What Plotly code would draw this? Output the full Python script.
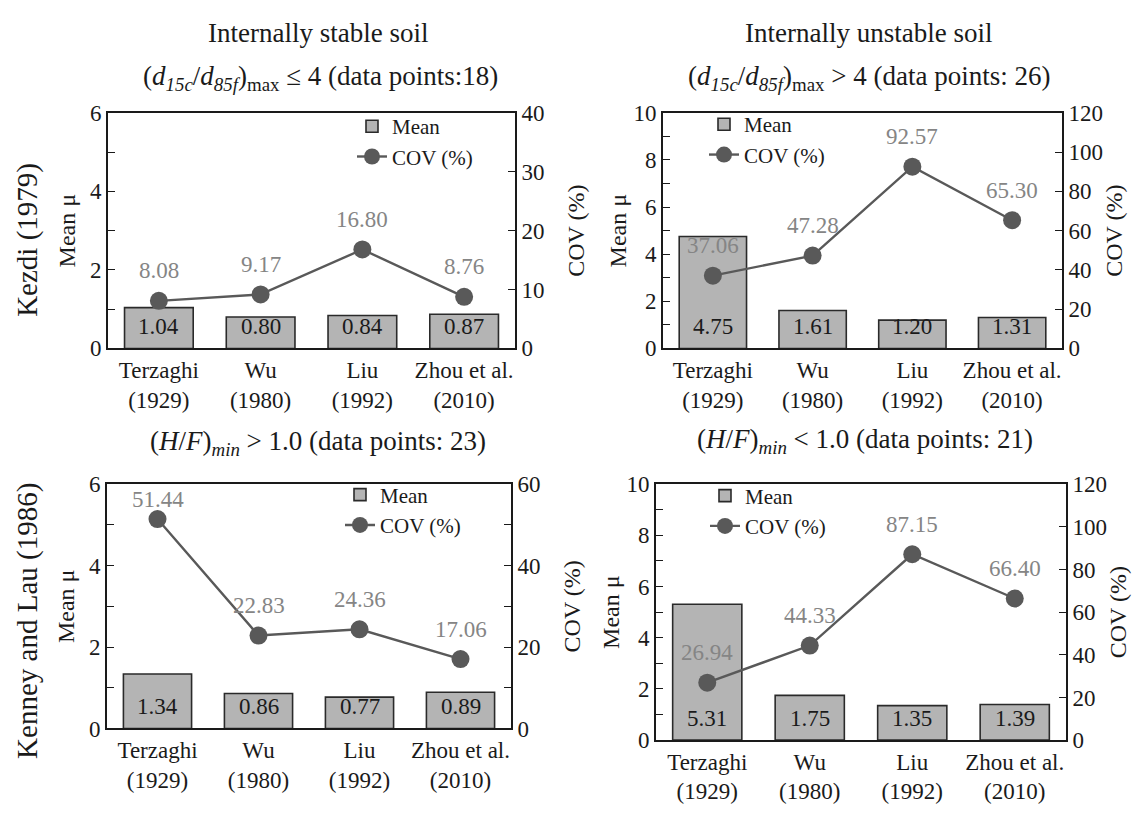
import plotly.graph_objects as go

W, H = 1133, 821
FONT = "Liberation Serif, Times New Roman, serif"

categories = ["Terzaghi<br>(1929)", "Wu<br>(1980)", "Liu<br>(1992)", "Zhou et al.<br>(2010)"]

mean_stable_kezdi = [1.04, 0.80, 0.84, 0.87]
cov_stable_kezdi = [8.08, 9.17, 16.80, 8.76]
mean_unstable_kezdi = [4.75, 1.61, 1.20, 1.31]
cov_unstable_kezdi = [37.06, 47.28, 92.57, 65.30]
mean_stable_kl = [1.34, 0.86, 0.77, 0.89]
cov_stable_kl = [51.44, 22.83, 24.36, 17.06]
mean_unstable_kl = [5.31, 1.75, 1.35, 1.39]
cov_unstable_kl = [26.94, 44.33, 87.15, 66.40]

panels = [
    dict(mean=mean_stable_kezdi, cov=cov_stable_kezdi, ymax=6, cmax=40, cdt=10, cminor=None,
         box=(108, 515, 104, 347), legpos=(352, 97), lstand=8, rstand=24),
    dict(mean=mean_unstable_kezdi, cov=cov_unstable_kezdi, ymax=10, cmax=120, cdt=20, cminor=None,
         box=(663, 1062, 104, 347), legpos=(704, 95), lstand=0, rstand=3),
    dict(mean=mean_stable_kl, cov=cov_stable_kl, ymax=6, cmax=60, cdt=20, cminor=10,
         box=(107, 511, 487, 739), legpos=(340, 477), lstand=8, rstand=24),
    dict(mean=mean_unstable_kl, cov=cov_unstable_kl, ymax=10, cmax=120, cdt=20, cminor=None,
         box=(656, 1066, 487, 751), legpos=(705, 478), lstand=0, rstand=3),
]

BAR_COLOR = "#b4b4b4"
LINE_COLOR = "#595959"
LABEL_GREY = "#858585"
INK = "#1a1a1a"

fig = go.Figure()
annotations = []
layout = dict(
    width=W, height=H,
    margin=dict(l=0, r=0, t=0, b=0),
    paper_bgcolor="white", plot_bgcolor="white",
    font=dict(family=FONT, size=23, color=INK),
    showlegend=True,
)

for i, p in enumerate(panels, start=1):
    x0, x1, y0, y1 = p["box"]
    xd = [x0 / W, x1 / W]
    yd = [1 - y1 / H, 1 - y0 / H]
    plot_h = y1 - y0
    leg = "legend" if i == 1 else f"legend{i}"
    xa = f"x{i}"
    yl = f"y{i}"
    yr = f"y{i + 4}"

    fig.add_trace(go.Bar(
        x=categories, y=p["mean"], name="Mean",
        xaxis=xa, yaxis=yl, legend=leg,
        marker=dict(color=BAR_COLOR, line=dict(color="#2a2a2a", width=1.6)),
        width=0.675,
    ))
    fig.add_trace(go.Scatter(
        x=categories, y=p["cov"], name="COV (%)",
        xaxis=xa, yaxis=yr, legend=leg,
        mode="lines+markers",
        line=dict(color=LINE_COLOR, width=2.4),
        marker=dict(color=LINE_COLOR, size=18),
    ))
    # value labels
    for c, m in zip(categories, p["mean"]):
        annotations.append(dict(
            x=c, y=0, xref=xa, yref=yl, text=f"{m:.2f}", showarrow=False,
            yanchor="middle", yshift=22,
            font=dict(family=FONT, size=23, color=INK),
        ))
    for c, v in zip(categories, p["cov"]):
        room = (p["cmax"] - v) / p["cmax"] * plot_h  # pixels from marker to top of plot
        shift = min(30, room - 16)
        annotations.append(dict(
            x=c, y=v, xref=xa, yref=yr, text=f"{v:.2f}", showarrow=False,
            yanchor="middle", yshift=shift,
            font=dict(family=FONT, size=23, color=LABEL_GREY),
        ))

    xkey = "xaxis" if i == 1 else f"xaxis{i}"
    ykey = "yaxis" if i == 1 else f"yaxis{i}"
    rkey = f"yaxis{i + 4}"
    layout[xkey] = dict(
        domain=xd, anchor=yl, type="category",
        showline=True, linecolor=INK, linewidth=1.6, mirror=True,
        ticks="", showgrid=False,
        tickfont=dict(family=FONT, size=23, color=INK),
    )
    layout[ykey] = dict(
        domain=yd, anchor=xa, range=[0, p["ymax"]], dtick=2,
        showline=True, linecolor=INK, linewidth=1.6,
        ticks="inside", ticklen=7, tickcolor=INK, tickwidth=1.4,
        minor=dict(dtick=1, ticks="inside", ticklen=7, tickcolor=INK, tickwidth=1.4),
        showgrid=False, zeroline=False,
        tickfont=dict(family=FONT, size=23, color=INK),
        title=dict(text="Mean μ", font=dict(family=FONT, size=24, color=INK), standoff=p["lstand"]),
    )
    rdict = dict(
        overlaying=yl, side="right", anchor=xa, range=[0, p["cmax"]], dtick=p["cdt"],
        showline=True, linecolor=INK, linewidth=1.6,
        ticks="inside", ticklen=7, tickcolor=INK, tickwidth=1.4,
        showgrid=False, zeroline=False,
        tickfont=dict(family=FONT, size=23, color=INK),
        title=dict(text="COV (%)", font=dict(family=FONT, size=24, color=INK), standoff=p["rstand"]),
    )
    if p["cminor"]:
        rdict["minor"] = dict(dtick=p["cminor"], ticks="inside", ticklen=7, tickcolor=INK, tickwidth=1.4)
    layout[rkey] = rdict
    lx, ly = p["legpos"]
    layout[leg] = dict(
        x=lx / W, y=1 - ly / H, xanchor="left", yanchor="top",
        bgcolor="rgba(0,0,0,0)", borderwidth=0,
        font=dict(family=FONT, size=21, color=INK),
        tracegroupgap=0, itemwidth=30,
    )

titles = [
    ("Internally stable soil", 318, 22),
    ("(<i>d</i><sub><i>15c</i></sub>/<i>d</i><sub><i>85f</i></sub>)<sub>max</sub> ≤ 4 (data points:18)", 320, 68),
    ("Internally unstable soil", 868, 22),
    ("(<i>d</i><sub><i>15c</i></sub>/<i>d</i><sub><i>85f</i></sub>)<sub>max</sub> &gt; 4 (data points: 26)", 869, 68),
    ("(<i>H</i>/<i>F</i>)<sub><i>min</i></sub> &gt; 1.0 (data points: 23)", 318, 445),
    ("(<i>H</i>/<i>F</i>)<sub><i>min</i></sub> &lt; 1.0 (data points: 21)", 865, 442),
]
for text, cx, cy in titles:
    annotations.append(dict(
        text=text, x=cx / W, y=1 - cy / H, xref="paper", yref="paper",
        xanchor="center", yanchor="middle", showarrow=False,
        font=dict(family=FONT, size=27, color=INK),
    ))

row_labels = [("Kezdi (1979)", 28, 235), ("Kenney and Lau (1986)", 28, 628)]
for text, cx, cy in row_labels:
    annotations.append(dict(
        text=text, x=cx / W, y=1 - cy / H, xref="paper", yref="paper",
        xanchor="center", yanchor="middle", showarrow=False, textangle=-90,
        font=dict(family=FONT, size=29, color=INK),
    ))

layout["annotations"] = annotations
fig.update_layout(**layout)
fig.write_html("out.html")
